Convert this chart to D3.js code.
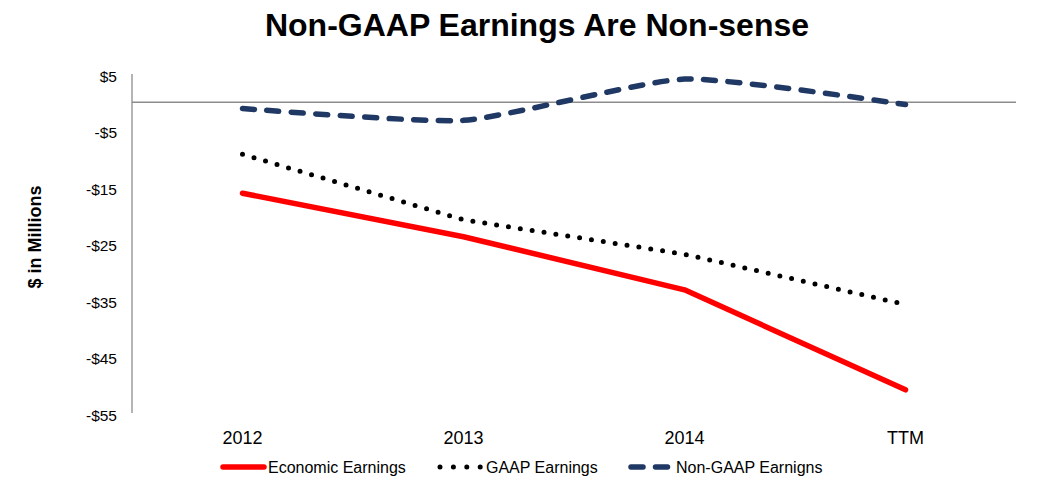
<!DOCTYPE html>
<html>
<head>
<meta charset="utf-8">
<script src="https://cdn.jsdelivr.net/npm/d3@7/dist/d3.min.js"></script>
<style>
  html, body { margin: 0; padding: 0; background: #fff; }
  svg { display: block; font-family: "Liberation Sans", Arial, sans-serif; }
</style>
</head>
<body>
<svg id="chart" width="1041" height="497"></svg>
<script>
const categories = ["2012", "2013", "2014", "TTM"];
const economicEarnings = [-16.1, -23.8, -33.2, -50.9];
const gaapEarnings = [-9.2, -20.8, -26.9, -35.8];
const nonGaapEarnings = [-1.1, -3.2, 4.1, -0.4];
const yTicks = [5, -5, -15, -25, -35, -45, -55];
const seriesNames = ["Economic Earnings", "GAAP Earnings", "Non-GAAP Earnigns"];

const svg = d3.select("#chart");
const plotLeft = 132, plotRight = 1016, plotTop = 74, plotBottom = 413;

const x = d3.scaleBand().domain(categories).range([plotLeft, plotRight]).padding(0);
const xc = c => x(c) + x.bandwidth() / 2;
const y = d3.scaleLinear().domain([-55, 5]).range([plotBottom, plotTop]);

// Title
svg.append("text")
  .attr("x", 537).attr("y", 36)
  .attr("text-anchor", "middle")
  .style("font-size", "32px").style("font-weight", "bold")
  .text("Non-GAAP Earnings Are Non-sense");

// Y axis title
svg.append("text")
  .attr("transform", "translate(41,237) rotate(-90)")
  .attr("text-anchor", "middle")
  .style("font-size", "18px").style("font-weight", "bold")
  .text("$ in Millions");

// Y axis line
svg.append("line")
  .attr("x1", plotLeft).attr("x2", plotLeft)
  .attr("y1", y(5)).attr("y2", y(-55))
  .attr("stroke", "#8c8c8c").attr("stroke-width", 1.3);

// Zero line (category axis)
svg.append("line")
  .attr("x1", plotLeft).attr("x2", plotRight)
  .attr("y1", y(0)).attr("y2", y(0))
  .attr("stroke", "#8c8c8c").attr("stroke-width", 1.3);

// Y tick labels
svg.append("g").selectAll("text").data(yTicks).join("text")
  .attr("x", 117).attr("y", d => y(d) + 2)
  .attr("text-anchor", "end")
  .attr("dominant-baseline", "central")
  .style("font-size", "15.5px")
  .text(d => (d < 0 ? "-$" : "$") + Math.abs(d));

// X tick labels
svg.append("g").selectAll("text").data(categories).join("text")
  .attr("x", d => xc(d)).attr("y", 444)
  .attr("text-anchor", "middle")
  .style("font-size", "18px")
  .text(d => d);

const lineStraight = d3.line()
  .x((d, i) => xc(categories[i]))
  .y(d => y(d))
  .curve(d3.curveLinear);

const lineSmooth = d3.line()
  .x((d, i) => xc(categories[i]))
  .y(d => y(d))
  .curve(d3.curveCardinal.tension(0.45));

// Non-GAAP
svg.append("path").datum(nonGaapEarnings)
  .attr("d", lineSmooth).attr("fill", "none")
  .attr("stroke", "#1f3864").attr("stroke-width", 5.5)
  .attr("stroke-linecap", "round")
  .attr("stroke-dasharray", "12 12.5");

// GAAP
svg.append("path").datum(gaapEarnings)
  .attr("d", lineStraight).attr("fill", "none")
  .attr("stroke", "#000").attr("stroke-width", 5)
  .attr("stroke-linecap", "round")
  .attr("stroke-dasharray", "0 12");

// Economic
svg.append("path").datum(economicEarnings)
  .attr("d", lineStraight).attr("fill", "none")
  .attr("stroke", "#ff0000").attr("stroke-width", 5.5)
  .attr("stroke-linecap", "round").attr("stroke-linejoin", "round");

// Legend
const ly = 467;
const lg = svg.append("g");
lg.append("line").attr("x1", 223).attr("x2", 264).attr("y1", ly).attr("y2", ly)
  .attr("stroke", "#ff0000").attr("stroke-width", 5.5).attr("stroke-linecap", "round");
lg.append("text").attr("x", 268).attr("y", ly).attr("dominant-baseline", "central")
  .style("font-size", "16px").text(seriesNames[0]);

lg.append("line").attr("x1", 440).attr("x2", 481).attr("y1", ly).attr("y2", ly)
  .attr("stroke", "#000").attr("stroke-width", 5).attr("stroke-linecap", "round")
  .attr("stroke-dasharray", "0 13.4");
lg.append("text").attr("x", 486).attr("y", ly).attr("dominant-baseline", "central")
  .style("font-size", "16px").text(seriesNames[1]);

lg.append("line").attr("x1", 631).attr("x2", 669).attr("y1", ly).attr("y2", ly)
  .attr("stroke", "#1f3864").attr("stroke-width", 5.5).attr("stroke-linecap", "round")
  .attr("stroke-dasharray", "12 12.5");
lg.append("text").attr("x", 676).attr("y", ly).attr("dominant-baseline", "central")
  .style("font-size", "16px").text(seriesNames[2]);
</script>
</body>
</html>
